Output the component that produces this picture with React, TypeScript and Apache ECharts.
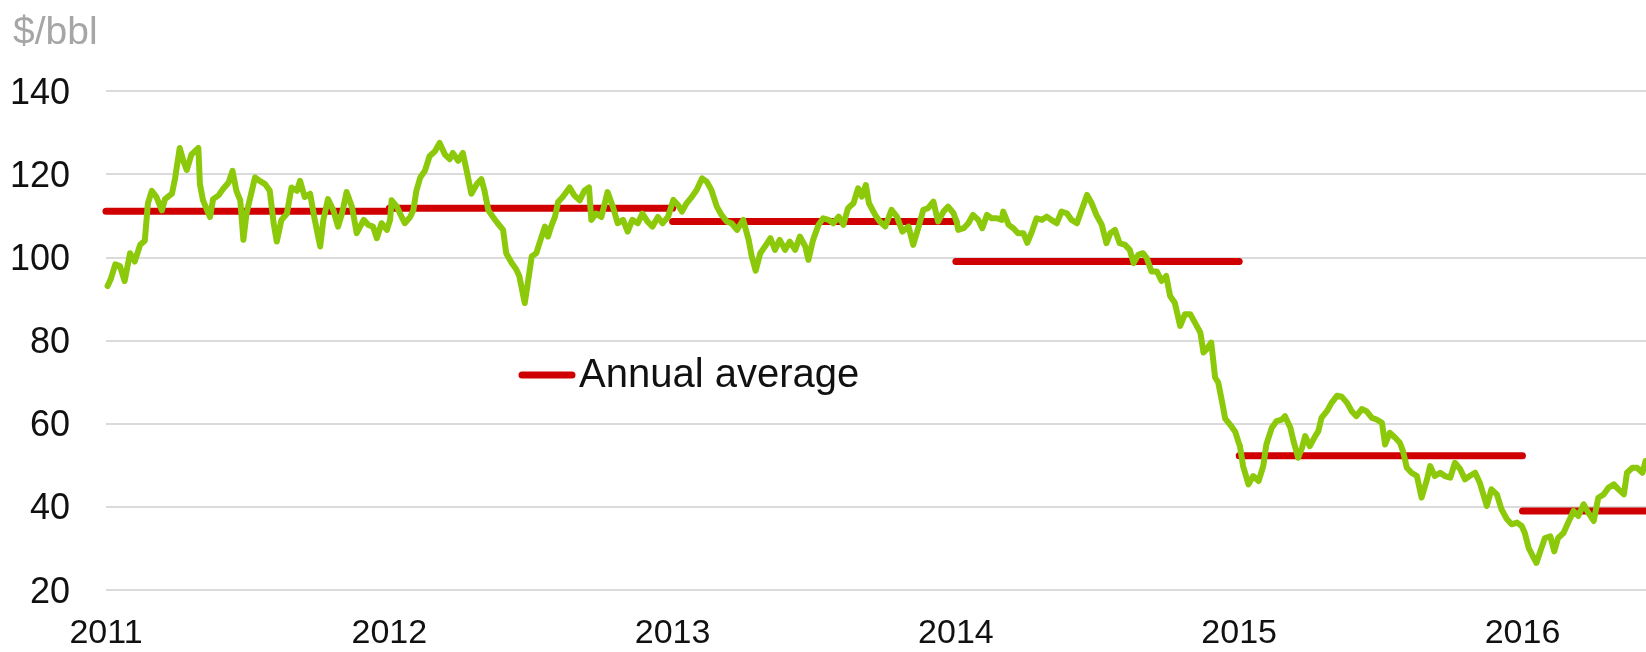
import React, { useEffect, useRef } from "react";
import * as echarts from "echarts";

// Brent price readings: [day of year, $/bbl]
const brent2011: [number, number][] = [
  [2, 93.1], [6, 94.7], [12, 98.3], [18, 97.9], [24, 94.3], [31, 101], [37, 99], [44, 103], [50, 104],
  [54, 113], [59, 116], [65, 114.5], [72, 111.3], [76, 114], [85, 115.3], [89, 119], [95, 126.3],
  [100, 123], [104, 121], [110, 124.7], [119, 126.3], [121, 117.6], [125, 113.7], [134, 109.7],
  [138, 114], [145, 114.9], [151, 116.5], [158, 118], [163, 120.8], [168, 116], [173, 113.7],
  [177, 104.2], [181, 110.5], [186, 114.5], [192, 119.2], [198, 118.4], [205, 117.6], [211, 116],
  [216, 108.2], [220, 103.8], [226, 109], [233, 110.5], [239, 116.8], [246, 116], [250, 118.4],
  [256, 114.5], [263, 115.3], [269, 109], [276, 102.6], [280, 109], [286, 114], [293, 111.3],
  [299, 107.4], [304, 110.5], [310, 115.7], [317, 112.1], [323, 105.8], [332, 109], [338, 107.8],
  [344, 107.4], [349, 104.6], [355, 108.2], [362, 106.6],
];
const brent2012: [number, number][] = [
  [1, 109], [3, 113.7], [10, 112.1], [14, 110.5], [20, 108.2], [27, 109.7], [31, 111.3], [35, 116],
  [40, 119.2], [46, 120.8], [52, 124.3], [59, 125.5], [65, 127.5], [72, 124.7], [78, 123.6],
  [82, 125.1], [89, 123.2], [95, 125.1], [100, 120.8], [106, 115.3], [113, 117.6], [119, 118.8],
  [123, 116], [128, 111.3], [134, 109.7], [140, 108.2], [147, 106.6], [151, 101], [158, 98.7],
  [164, 97.1], [168, 95.5], [175, 89], [179, 93.9], [184, 100.2], [190, 101], [194, 103.4],
  [201, 107.4], [205, 105], [209, 107.4], [214, 109.7], [218, 113.3], [224, 114.5], [233, 116.8],
  [239, 114.9], [246, 113.7], [252, 116], [258, 116.8], [261, 109], [267, 110.5], [274, 109.7],
  [282, 115.7], [289, 112.1], [295, 108.2], [302, 109], [308, 106.2], [314, 109], [321, 108.2],
  [327, 110.5], [334, 108.5], [340, 107.4], [347, 109.7], [353, 108.2], [360, 109.7],
];
const brent2013: [number, number][] = [
  [1, 113.8], [7, 112.6], [12, 111], [18, 113], [25, 114.6], [31, 116.2], [38, 119], [44, 118.2],
  [50, 116.2], [57, 112.2], [63, 110.2], [70, 108.6], [76, 108.2], [83, 106.6], [91, 109],
  [98, 104.2], [102, 100.2], [107, 96.8], [113, 101], [119, 102.6], [126, 104.6], [132, 101.8],
  [138, 104.2], [145, 101.8], [151, 103.8], [158, 101.8], [164, 105], [171, 102.6], [175, 99.4],
  [181, 104.2], [188, 107.8], [194, 109.4], [201, 109], [207, 108.2], [214, 109.8], [220, 107.8],
  [226, 111.8], [233, 113], [239, 116.6], [244, 114.6], [249, 117.4], [253, 113], [261, 110.2],
  [267, 108.6], [274, 107.4], [282, 111.4], [289, 109.8], [296, 106.2], [304, 107.4], [310, 103],
  [317, 107.4], [323, 111.4], [329, 111.8], [336, 113.4], [342, 108.6], [349, 111], [355, 112.2],
  [362, 110.6],
];
const brent2014: [number, number][] = [
  [1, 108.5], [3, 106.6], [10, 107], [16, 108.2], [22, 110.2], [29, 109], [34, 107], [40, 110.2],
  [46, 109.4], [53, 109.4], [59, 109], [61, 111], [68, 107.8], [74, 107], [80, 105.8], [87, 105.8],
  [92, 103.5], [98, 106.2], [104, 109.4], [111, 109], [117, 109.8], [123, 109], [130, 108.2],
  [136, 111], [143, 110.6], [149, 109], [156, 108.2], [162, 111.4], [169, 115], [175, 113],
  [181, 110.2], [188, 107.8], [194, 103.4], [199, 105.8], [205, 106.6], [211, 103.4], [218, 103],
  [224, 101.8], [229, 98.6], [235, 100.6], [241, 101], [246, 99.8], [252, 96.6], [259, 96.6],
  [265, 94.3], [271, 95.5], [276, 90.7], [282, 89.1], [289, 83.5], [295, 86.3], [302, 86.3],
  [308, 84.3], [315, 81.9], [319, 77.1], [323, 77.9], [329, 79.5], [334, 71.1], [338, 69.9],
  [343, 65.2], [347, 61.2], [354, 59.6], [360, 58], [364, 55.6],
];
const brent2015: [number, number][] = [
  [1, 54.6], [5, 49.8], [12, 45.4], [18, 47.4], [25, 46.2], [31, 49.8], [35, 55], [42, 59],
  [48, 60.6], [55, 61], [59, 61.8], [66, 59], [70, 55.8], [76, 51.8], [81, 54.2], [85, 57],
  [91, 54.6], [98, 57], [102, 58.2], [106, 61.4], [113, 63], [119, 65], [126, 66.7], [132, 66.5],
  [139, 65], [145, 63], [151, 61.8], [158, 63.5], [164, 63], [171, 61.4], [177, 61], [184, 60.2],
  [188, 55], [194, 57.8], [201, 56.6], [207, 55.4], [211, 53.4], [216, 49.4], [222, 48.2],
  [229, 47.4], [235, 42.2], [242, 46.6], [246, 49.8], [252, 47.4], [259, 48.2], [265, 47.4],
  [272, 47], [278, 50.6], [285, 49], [291, 46.6], [297, 47.4], [304, 48.2], [310, 45.8],
  [319, 40.2], [325, 44.2], [332, 43], [338, 39.4], [345, 37], [351, 35.8], [358, 36.2], [364, 35.4],
];
const brent2016: [number, number][] = [
  [3, 33.7], [8, 30.1], [14, 27.9], [18, 26.5], [23, 29.3], [29, 32.5], [36, 32.9], [41, 29.3],
  [46, 32.5], [53, 33.7], [59, 36.2], [66, 39], [72, 37.8], [79, 40.6], [85, 38.6], [92, 36.6],
  [98, 42.2], [105, 43], [111, 44.6], [118, 45.4], [124, 44.2], [131, 43], [135, 48.2], [142, 49.4],
  [148, 49.4], [155, 48.2], [159, 51], [162, 50],
];

const years = [2011, 2012, 2013, 2014, 2015, 2016];
const brentByYear = [brent2011, brent2012, brent2013, brent2014, brent2015, brent2016];
const annualAverage = [111.1, 111.8, 108.6, 99.0, 52.3, 39.0];

const X_MIN = 2011;
const X_MAX = 2016.436;
const Y_MIN = 20;
const Y_MAX = 140;
const Y_STEP = 20;

const FONT = "'Liberation Sans', Arial, Helvetica, sans-serif";
const GREEN = "#8dc90b";
const RED = "#d10000";

const daysInYear = (y: number) => ((y % 4 === 0 && y % 100 !== 0) || y % 400 === 0 ? 366 : 365);

export default function App() {
  const ref = useRef<HTMLDivElement>(null);

  useEffect(() => {
    if (!ref.current) return;
    const chart = echarts.init(ref.current, null, { renderer: "svg" });

    const priceData: [number, number][] = [];
    years.forEach((y, i) => {
      brentByYear[i].forEach(([d, v]) => priceData.push([y + d / daysInYear(y), v]));
    });

    const avgSeries = years.map((y, i) => ({
      type: "line" as const,
      name: "Annual average",
      data: [
        [y, annualAverage[i]],
        [Math.min(y + 1, X_MAX), annualAverage[i]],
      ],
      symbol: "none",
      silent: true,
      z: 2,
      lineStyle: { color: RED, width: 7, cap: "round" },
    }));

    chart.setOption({
      animation: false,
      grid: { left: 106, right: 0, top: 91, bottom: 62, containLabel: false, outerBoundsMode: "none" },
      xAxis: {
        type: "value",
        min: X_MIN,
        max: X_MAX,
        interval: 1,
        axisLine: { show: false },
        axisTick: { show: false },
        splitLine: { show: false },
        axisLabel: {
          fontSize: 34,
          fontFamily: FONT,
          color: "#111",
          margin: 41,
          verticalAlign: "middle",
          lineHeight: 30,
          showMaxLabel: false,
          formatter: (v: number) =>
            Math.abs(v - Math.round(v)) < 1e-6 ? String(Math.round(v)) : "",
        },
      },
      yAxis: {
        type: "value",
        min: Y_MIN,
        max: Y_MAX,
        interval: Y_STEP,
        axisLine: { show: false },
        axisTick: { show: false },
        splitLine: { show: true, lineStyle: { color: "#cfcfcf", width: 1.5 } },
        axisLabel: { fontSize: 36, fontFamily: FONT, color: "#111", margin: 36 },
      },
      series: [
        ...avgSeries,
        {
          type: "line",
          name: "Brent",
          data: priceData,
          symbol: "none",
          silent: true,
          z: 3,
          lineStyle: { color: GREEN, width: 6, cap: "round", join: "round" },
        },
      ],
      graphic: [
        {
          type: "text",
          x: 13,
          y: 30,
          style: { text: "$/bbl", fontSize: 39, fontFamily: FONT, fill: "#a6a6a6", verticalAlign: "middle" },
        },
        {
          type: "line",
          shape: { x1: 522, y1: 375, x2: 572, y2: 375 },
          style: { stroke: RED, lineWidth: 7, lineCap: "round" },
        },
        {
          type: "text",
          x: 579,
          y: 373,
          style: { text: "Annual average", fontSize: 40, fontFamily: FONT, fill: "#111", verticalAlign: "middle" },
        },
      ],
    });

    return () => chart.dispose();
  }, []);

  return <div ref={ref} style={{ position: "fixed", left: 0, top: 0, width: 1646, height: 652 }} />;
}
